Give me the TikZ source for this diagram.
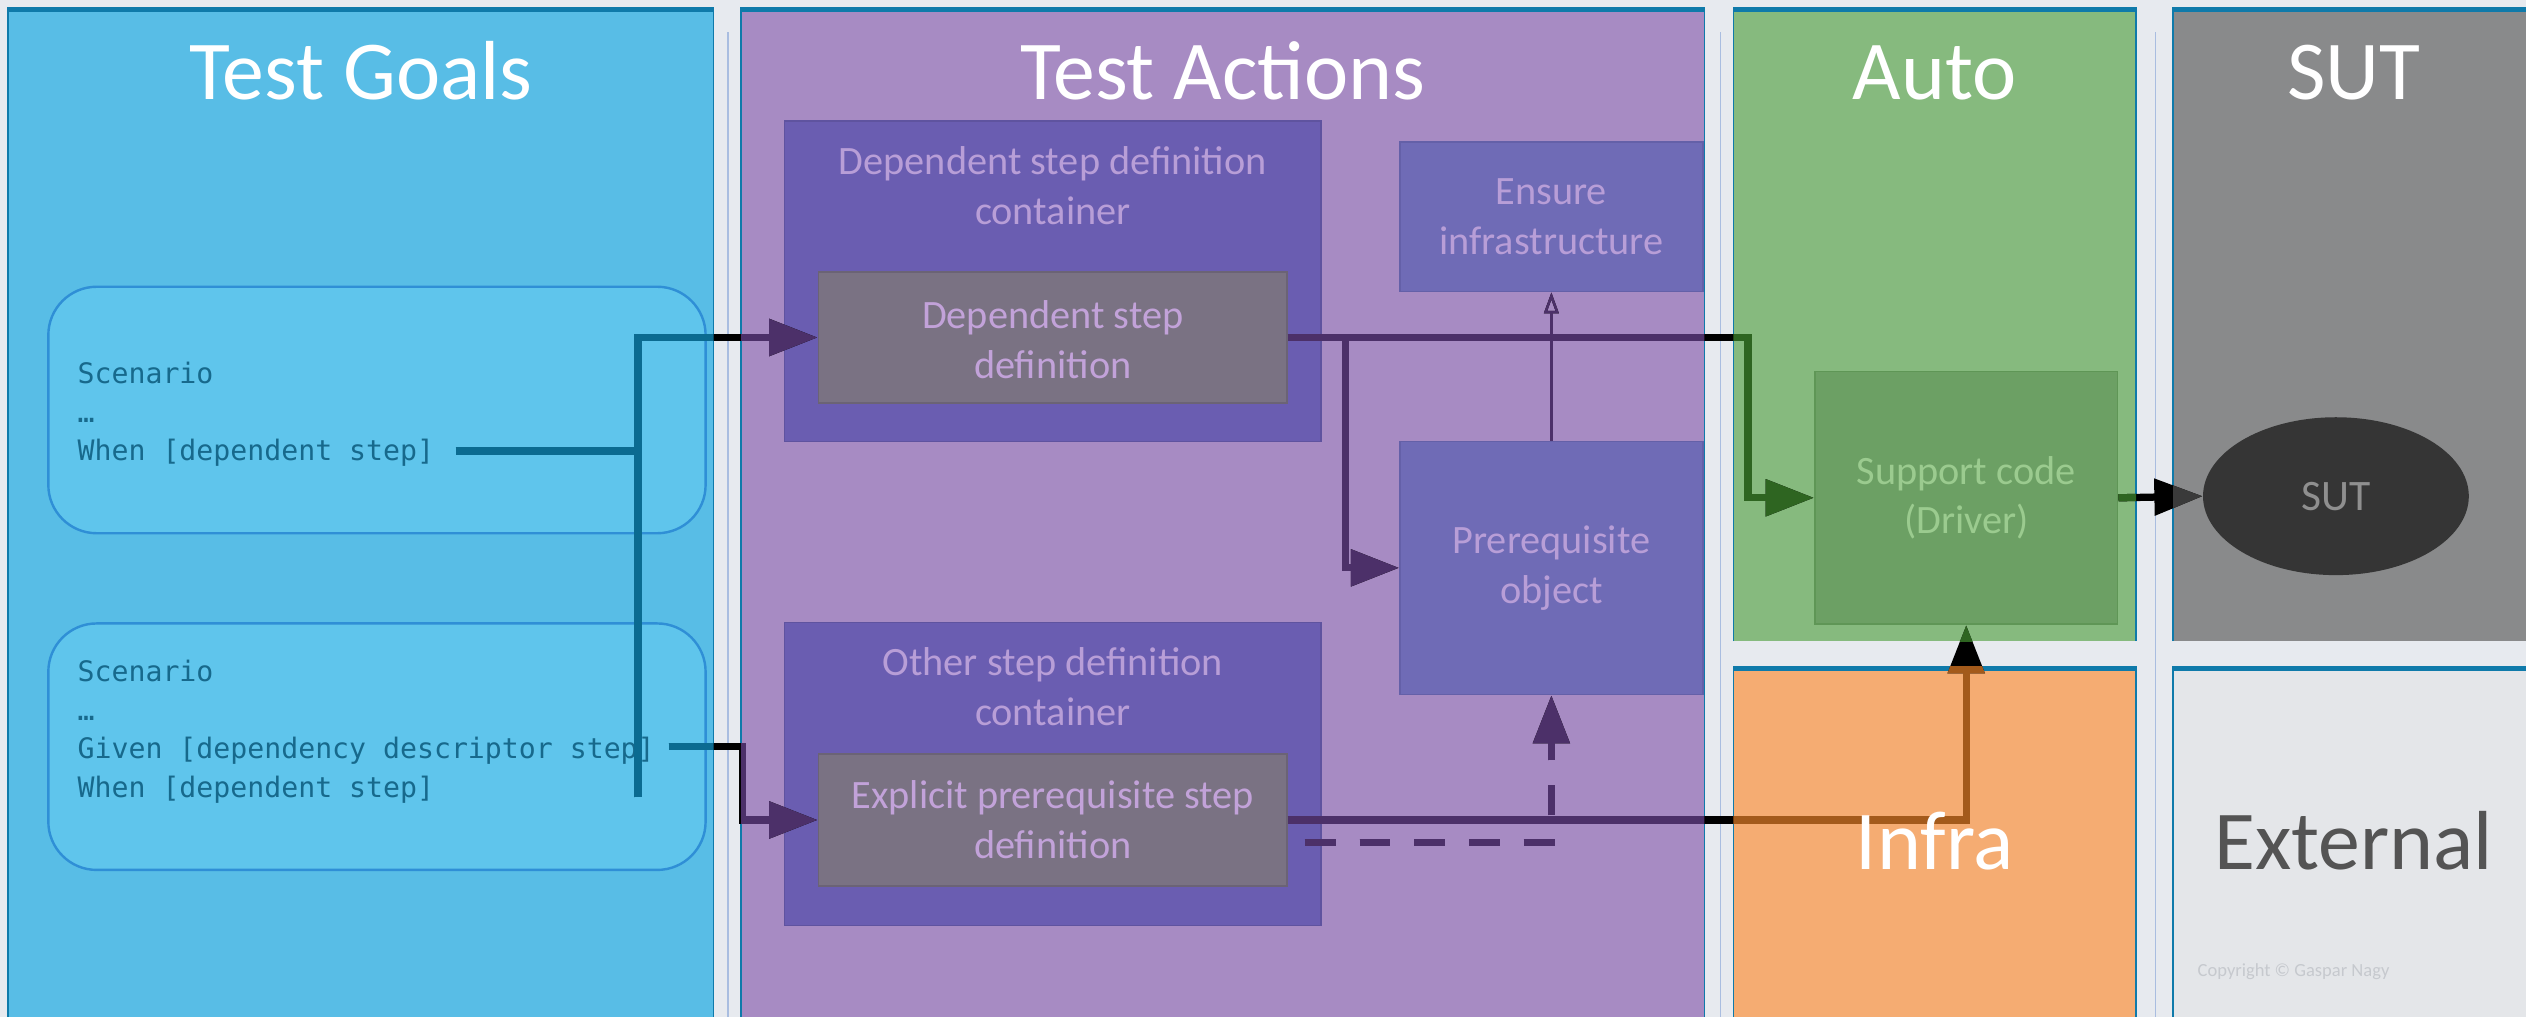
\documentclass[tikz,border=0pt]{standalone}
\usepackage{fontspec}
\setmainfont{Carlito}
\newfontfamily\monof{DejaVu Sans Mono}
\usetikzlibrary{arrows.meta,shapes.geometric}
\definecolor{bgc}{HTML}{E7EAEF}
\definecolor{pborder}{HTML}{0F7AAA}
\definecolor{sepc}{HTML}{A9BDE0}
\definecolor{goalsc}{HTML}{58BDE6}
\definecolor{scenc}{HTML}{5FC5EC}
\definecolor{scenb}{HTML}{2F8FD6}
\definecolor{monoc}{HTML}{17698C}
\definecolor{goalsline}{HTML}{0B6B91}
\definecolor{actc}{HTML}{A78BC3}
\definecolor{contc}{HTML}{6A5DB1}
\definecolor{contb}{HTML}{5F539F}
\definecolor{conttext}{HTML}{B89ED7}
\definecolor{grayc}{HTML}{7A7283}
\definecolor{grayb}{HTML}{6B6375}
\definecolor{graytext}{HTML}{C2A2D9}
\definecolor{ensc}{HTML}{6F6BB6}
\definecolor{ensb}{HTML}{6460A8}
\definecolor{actline}{HTML}{4C3069}
\definecolor{autoc}{HTML}{86BA7E}
\definecolor{supc}{HTML}{6CA064}
\definecolor{supb}{HTML}{5F9656}
\definecolor{suptext}{HTML}{9BCB8F}
\definecolor{autoline}{HTML}{2E6521}
\definecolor{sutc}{HTML}{898A8B}
\definecolor{ellc}{HTML}{353535}
\definecolor{ellt}{HTML}{8F8F8F}
\definecolor{sutline}{HTML}{3A3A3A}
\definecolor{infrac}{HTML}{F5AC72}
\definecolor{infraline}{HTML}{A35A1B}
\definecolor{extc}{HTML}{E4E6E9}
\definecolor{extt}{HTML}{545454}
\definecolor{copyc}{HTML}{C6C9CE}
\newcommand\panelbox[5]{%
  \fill[#5] (#1,#2) rectangle (#3,#4);
  \draw[pborder,line width=1pt] (#1,#4) -- (#1,#2) -- (#3,#2) -- (#3,#4);
  \draw[pborder,line width=2.5pt] (#1,#2+1) -- (#3,#2+1);}
\def\lc{black}
\newcommand\allconns{%
  \draw[conn] (w1) -- (w1 -| jb);
  \draw[conn,bigtip] (jb) -- (jb |- dsd.west) -- (dsd.west);
  \draw[conn,bigtip] (g1) -- (g1 -| kB) -- (kB |- eps.west) -- (eps.west);
  \draw[conn,bigtip] (dsd.east) -- (dsd.east -| kC) -- (kC |- sup.west) -- (sup.west);
  \draw[conn,bigtip] (dsd.east -| kD) -- (kD |- pre.west) -- (pre.west);
  \draw[conn,bigtip] (eps.east) -- (eps.east -| sup.south) -- (sup.south);
  \draw[conn,bigtip,dash pattern=on 19pt off 15pt] (d0) -- (d0 -| pre.south) -- (pre.south);
  \draw[thinconn] (pre.north) -- (ens.south);
  \draw[conn,bigtip] (sup.east) -- (sut.west);}
\begin{document}
\begin{tikzpicture}[x=1pt,y=-1pt,
  box/.style={draw,line width=1pt,inner sep=0pt,align=center,font=\fontsize{25}{31}\selectfont},
  boxtext/.style={inner sep=0pt,align=center,font=\fontsize{25}{31}\selectfont},
  title/.style={font=\fontsize{52}{60}\selectfont,text=white,anchor=base,inner sep=0pt},
  mono/.style={font=\monof\fontsize{17.5}{21}\selectfont,text=monoc,anchor=base west,inner sep=0pt},
  scen/.style={draw=scenb,fill=scenc,line width=1.5pt,rounded corners=30pt,inner sep=0pt},
  conn/.style={line width=4.5pt,color=\lc},
  bigtip/.style={-{Triangle[length=30pt,width=22pt]}},
  thinconn/.style={line width=2pt,color=\lc,-{Triangle[open,length=13pt,width=9pt,line width=1.5pt]}}]
\useasboundingbox (0,0) rectangle (1568,631);
\fill[bgc] (0,0) rectangle (1568,631);
% separators
\draw[sepc,line width=1pt] (452,20) -- (452,640);
\draw[sepc,line width=1pt] (1068,20) -- (1068,640);
\draw[sepc,line width=1pt] (1338,20) -- (1338,640);
% panels
\panelbox{5}{5}{443}{640}{goalsc}
\panelbox{460}{5}{1058}{640}{actc}
\panelbox{1076}{5}{1326}{398}{autoc}
\panelbox{1349}{5}{1575}{398}{sutc}
\panelbox{1076}{414}{1326}{640}{infrac}
\panelbox{1349}{414}{1575}{640}{extc}
% scenario boxes
\node[scen,minimum width=408pt,minimum height=153pt] (s1) at (234,254.5) {};
\node[scen,minimum width=408pt,minimum height=153pt] (s2) at (234,463.5) {};
\node[mono] (s1a) at (48,238) {Scenario};
\node[mono] (s1b) at (48,262) {…};
\node[mono] (s1c) at (48,286) {When [dependent step]};
\node[mono] (s2a) at (48,423) {Scenario};
\node[mono] (s2b) at (48,447) {…};
\node[mono] (s2c) at (48,471) {Given [dependency descriptor step]};
\node[mono] (s2d) at (48,495) {When [dependent step]};
% containers
\node[box,draw=contb,fill=contc,minimum width=333pt,minimum height=199pt] (c1) at (653.5,174.5) {};
\node[boxtext,text=conttext] (c1t) at (653.5,115) {Dependent step definition\\container};
\node[box,draw=grayb,fill=grayc,minimum width=291pt,minimum height=81pt] (dsd) at (653.5,209.5) {};
\node[boxtext,text=graytext] (dsdt) at (653.5,211) {Dependent step\\definition};
\node[box,draw=contb,fill=contc,minimum width=333pt,minimum height=188pt] (c2) at (653.5,480.5) {};
\node[boxtext,text=conttext] (c2t) at (653.5,426) {Other step definition\\container};
\node[box,draw=grayb,fill=grayc,text=graytext,minimum width=291pt,minimum height=82pt] (eps) at (653.5,509) {Explicit prerequisite step\\definition};
\node[box,draw=ensb,fill=ensc,text=conttext,minimum width=188pt,minimum height=93pt] (ens) at (963,134.5) {Ensure\\infrastructure};
\node[box,draw=ensb,fill=ensc,text=conttext,minimum width=188pt,minimum height=157pt] (pre) at (963,352.5) {Prerequisite\\object};
\node[box,draw=supb,fill=supc,text=suptext,minimum width=188pt,minimum height=157pt] (sup) at (1220.5,309) {Support code\\(Driver)};
\node[ellipse,fill=ellc,inner sep=0pt,minimum width=165pt,minimum height=98pt,text=ellt,font=\fontsize{27}{32}\selectfont] (sut) at (1450,308) {SUT};
% connector points
\coordinate (w1) at (283,280);
\coordinate (g1) at (415,463.5);
\coordinate (jb) at (396,495);
\coordinate (kB) at (461,463.5);
\coordinate (kC) at (1085,0);
\coordinate (kD) at (835,0);
\coordinate (d0) at (810,523);
% connectors: black base, recoloured per panel
\allconns
\begin{scope}\clip (5,5) rectangle (443,640); \def\lc{goalsline}\allconns\end{scope}
\begin{scope}\clip (460,5) rectangle (1058,640); \def\lc{actline}\allconns\end{scope}
\begin{scope}\clip (1076,5) rectangle (1326,398); \def\lc{autoline}\allconns\end{scope}
\begin{scope}\clip (1076,414) rectangle (1326,640); \def\lc{infraline}\allconns\end{scope}
\begin{scope}\clip (1349,5) rectangle (1575,398); \def\lc{sutline}\allconns\end{scope}
% titles
\node[title] (tg) at (224,62) {Test Goals};
\node[title] (ta) at (759,62) {Test Actions};
\node[title] (tau) at (1201,62) {Auto};
\node[title] (tsut) at (1461,62) {SUT};
\node[title] (tinf) at (1201,540) {Infra};
\node[title,text=extt] (text) at (1461,540) {External};
\node[anchor=base west,inner sep=0pt,text=copyc,font=\fontsize{11.5}{14}\selectfont] (copy) at (1364,606) {Copyright © Gaspar Nagy};
\end{tikzpicture}
\end{document}
